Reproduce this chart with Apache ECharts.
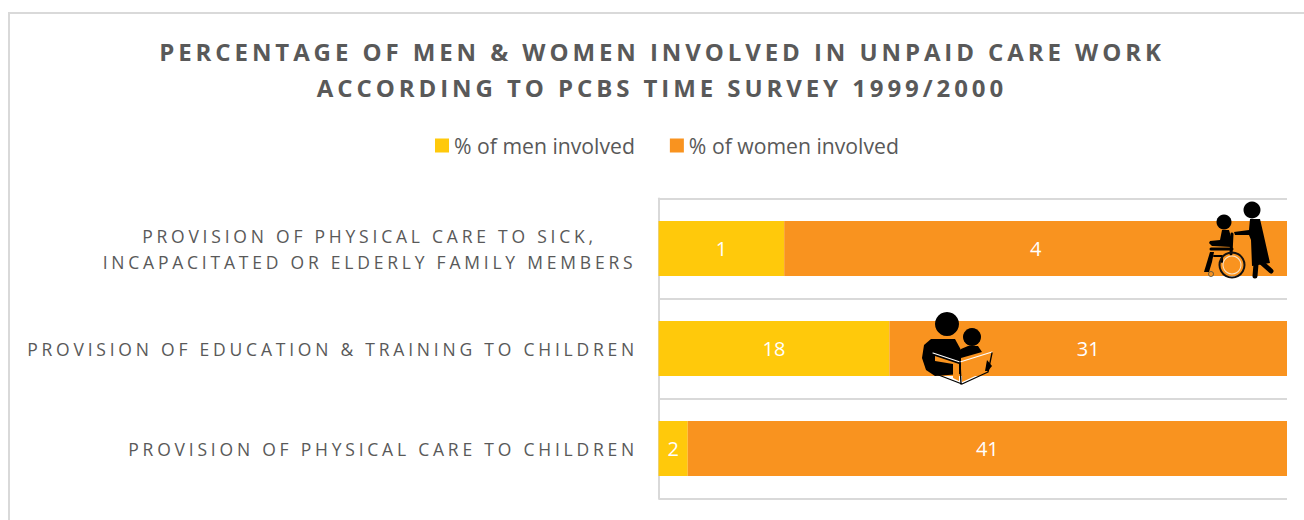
<!DOCTYPE html>
<html>
<head>
<meta charset="utf-8">
<title>Unpaid care work</title>
<style>
  html, body { margin: 0; padding: 0; background: #fff; }
  #chart { width: 1304px; height: 520px; }
  /* echarts has no letter spacing option, the svg text picks it up from css */
  #chart text[style*="bold"] { letter-spacing: 3.92px; }
  #chart text[style*="17.5px"] { letter-spacing: 3.78px; }
</style>
<script src="https://cdn.jsdelivr.net/npm/echarts@6/dist/echarts.min.js"></script>
</head>
<body>
<div id="chart"></div>
<script>
const titleLines = [
  'PERCENTAGE OF MEN & WOMEN INVOLVED IN UNPAID CARE WORK',
  'ACCORDING TO PCBS TIME SURVEY 1999/2000'
]
const categories = [
  'PROVISION OF PHYSICAL CARE TO SICK,\nINCAPACITATED OR ELDERLY FAMILY MEMBERS',
  'PROVISION OF EDUCATION & TRAINING TO CHILDREN',
  'PROVISION OF PHYSICAL CARE TO CHILDREN'
]
const seriesNames = ['% of men involved', '% of women involved']
const menValues = [1, 18, 2]
const womenValues = [4, 31, 41]

const share = (arr, other) => arr.map((v, i) => v / (v + other[i]) * 100)
const labelFrom = arr => p => arr[p.dataIndex]

// the two small pictograms sitting on top of the bars
const ring = (cx, cy, r, r0, fill) => ({ type: 'ring', z: 100, shape: { cx, cy, r, r0 }, style: { fill } })
const dot = (cx, cy, r, fill) => ({ type: 'circle', z: 100, shape: { cx, cy, r }, style: { fill: fill || '#000' } })
const poly = (points, fill) => ({ type: 'polygon', z: 100, shape: { points }, style: { fill: fill || '#000' } })
const stroke = (points, lineWidth, color) => ({
  type: 'polyline', z: 100, shape: { points },
  style: { stroke: color || '#000', lineWidth, fill: 'none', lineCap: 'round', lineJoin: 'round' }
})

const wheelchairIcon = [
  dot(1252, 210, 8.5),
  dot(1224, 222, 7.5),
  // woman pushing
  poly([[1250, 219], [1260, 219], [1263, 232], [1270, 263], [1252, 266], [1251, 240], [1249, 235], [1235, 235], [1234, 232], [1249, 230]]),
  stroke([[1256, 264], [1255, 276]], 5),
  stroke([[1262, 263], [1271, 271]], 5),
  // seated person
  poly([[1222, 230], [1229, 230], [1232, 240], [1231, 247], [1212, 246], [1209, 243], [1210, 241], [1220, 240]]),
  stroke([[1211, 249], [1232, 249]], 3),
  poly([[1210, 252], [1214, 252], [1212, 262], [1209, 272], [1204, 272]]),
  stroke([[1232, 234], [1231, 254]], 3),
  stroke([[1214, 256], [1222, 256], [1222, 262]], 2),
  // chair
  ring(1232, 265, 13.5, 11.5, '#111'),
  ring(1232, 265, 9.5, 8.5, '#f5e6d0'),
  ring(1211, 274, 3, 2, '#6b5a3a')
]

const readingIcon = [
  dot(947, 324, 12),
  dot(972, 337, 9),
  // adult, the arm covers the lower part of the left page
  poly([[931, 339], [955, 339], [961, 350], [961, 374], [935, 376], [926, 370], [922, 358], [924, 345]]),
  // child shoulders
  poly([[961, 349], [968, 346], [978, 346], [982, 352], [961, 358]]),
  // open book
  poly([[935, 356], [959, 364], [959, 381], [953, 378], [953, 364], [935, 361]], '#f9931f'),
  poly([[962, 364], [990, 354], [986, 371], [962, 382]], '#f9931f'),
  poly([[987, 360], [992, 366], [988, 371], [985, 371]]),
  stroke([[933, 353], [960, 362], [992, 352]], 1.2, '#fff'),
  stroke([[960, 362], [961, 384]], 1.4),
  stroke([[992, 353], [988, 372], [962, 384], [936, 374]], 1.3)
]

const chart = echarts.init(document.getElementById('chart'), null, { renderer: 'svg' })

chart.setOption({
  animation: false,
  backgroundColor: '#fff',
  title: {
    text: titleLines.join('\n'),
    left: 657,
    top: 28,
    textAlign: 'center',
    textStyle: {
      fontFamily: 'Open Sans',
      fontWeight: 'bold',
      fontSize: 24,
      lineHeight: 36,
      color: '#595959'
    }
  },
  legend: {
    data: seriesNames,
    left: 430,
    top: 130,
    itemWidth: 14,
    itemHeight: 14,
    itemGap: 35,
    icon: 'rect',
    textStyle: { fontFamily: 'Open Sans', fontSize: 21.2, color: '#595959' }
  },
  grid: { left: 658.5, right: 17, top: 198.5, bottom: 21.5 },
  xAxis: { type: 'value', min: 0, max: 100, show: false },
  yAxis: {
    type: 'category',
    inverse: true,
    data: categories,
    axisTick: { show: false },
    axisLine: { show: true, lineStyle: { color: '#d9d9d9', width: 2 } },
    splitLine: { show: true, lineStyle: { color: '#d9d9d9', width: 2 } },
    axisLabel: {
      margin: 20.5,
      fontFamily: 'Open Sans',
      fontSize: 17.5,
      color: '#595959',
      lineHeight: 26,
      align: 'right',
      // the wrapped label has its two lines centred on each other
      formatter: v => v.includes('\n') ? v.split('\n').map(l => '{c|' + l + '}').join('\n') : v,
      rich: {
        c: { width: 537, align: 'center', fontFamily: 'Open Sans', fontSize: 17.5, lineHeight: 26, color: '#595959' }
      }
    }
  },
  series: [
    {
      name: seriesNames[0],
      type: 'bar',
      stack: 'total',
      barWidth: 55,
      data: share(menValues, womenValues),
      itemStyle: { color: '#ffc90b' },
      label: {
        show: true,
        position: 'inside',
        color: '#fff',
        fontFamily: 'Open Sans',
        fontSize: 20,
        formatter: labelFrom(menValues)
      }
    },
    {
      name: seriesNames[1],
      type: 'bar',
      stack: 'total',
      data: share(womenValues, menValues),
      itemStyle: { color: '#f9931f' },
      label: {
        show: true,
        position: 'inside',
        color: '#fff',
        fontFamily: 'Open Sans',
        fontSize: 20,
        formatter: labelFrom(womenValues)
      }
    }
  ],
  graphic: {
    elements: [
      // chart frame, cut off on the right and at the bottom
      { type: 'polyline', shape: { points: [[9, 520], [9, 13], [1304, 13]] }, style: { stroke: '#d9d9d9', lineWidth: 2, fill: 'none' } },
      { type: 'group', children: wheelchairIcon },
      { type: 'group', children: readingIcon }
    ]
  }
})
</script>
</body>
</html>
